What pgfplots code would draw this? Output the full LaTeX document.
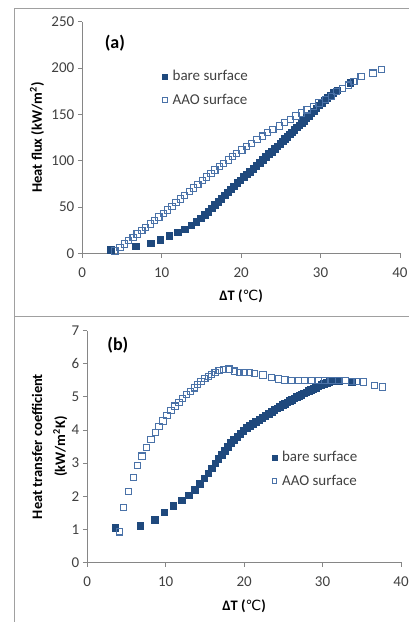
\documentclass[border=0pt]{standalone}
\usepackage{fontspec}
\setmainfont{Carlito}
\newfontfamily\dejavu{DejaVu Sans}
\usepackage{pgfplots}
\pgfplotsset{compat=1.18}

\definecolor{bareblue}{RGB}{31,73,125}
\definecolor{aaoblue}{RGB}{74,114,168}
\definecolor{axgray}{RGB}{134,134,134}
\definecolor{framegray}{RGB}{160,160,160}
\definecolor{txtgray}{RGB}{64,64,64}

\pgfplotsset{
  panel/.style={
    scale only axis,
    axis lines=left,
    axis line style={-, draw=axgray, line width=0.8pt},
    tick align=outside,
    major tick length=4.5pt,
    tick style={axgray, line width=0.8pt},
    xmin=0, xmax=40, xtick={0,10,20,30,40},
    ticklabel style={font=\fontsize{15}{18}\selectfont, text=txtgray},
    xticklabel style={yshift=-6pt},
    /pgf/number format/assume math mode=true,
    label style={font=\bfseries\fontsize{14.5}{23}\selectfont},
    xlabel={ΔT ({\dejavu\mdseries\fontsize{14}{16}\selectfont ℃})},
    legend style={draw=none, fill=none, font=\fontsize{15}{18}\selectfont,
      text=txtgray, row sep=8pt, legend cell align=left,
      /tikz/every odd column/.append style={column sep=3pt}},
    legend image post style={scale=0.75},
    clip=false,
  },
  bare/.style={only marks, mark=square*, mark size=3.3pt,
    mark options={fill=bareblue, draw=bareblue, line width=0.4pt}},
  aao/.style={only marks, mark=square, mark size=3.1pt,
    mark options={draw=aaoblue, line width=1.1pt}},
}

\begin{document}
\begin{tikzpicture}

% panel frames
\draw[framegray, line width=1pt] (409pt,-8pt) -- (14pt,-8pt) -- (14pt,-622pt);
\draw[framegray, line width=1pt] (14pt,-316pt) -- (409pt,-316pt);

% (a) heat flux
\begin{axis}[panel,
  at={(82.3pt,-253.3pt)}, anchor=south west,
  width=317.7pt, height=231.6pt,
  ymin=0, ymax=250, ytick={0,50,...,250},
  ylabel={Heat flux (kW/m\textsuperscript{2})},
  xlabel style={at={(axis description cs:0.5,-0.184)}, anchor=center},
  ylabel style={at={(axis description cs:-0.1426,0.5)}, anchor=center},
  legend style={at={(axis description cs:0.243,0.808)}, anchor=north west},
]
\addplot[bare] table {
x y
3.55 3.7
6.75 7.5
8.6 11.0
9.8 14.8
10.95 18.8
12.0 22.6
12.9 26.2
13.7 30.2
14.35 34.0
14.9 37.8
15.4 41.5
15.85 45.2
16.3 48.7
16.7 52.3
17.1 55.7
17.5 59.2
17.9 62.7
18.3 66.1
18.7 69.4
19.1 72.6
19.5 75.9
19.9 79.0
20.3 82.4
20.7 85.3
21.1 88.4
21.5 91.4
21.9 94.4
22.3 97.5
22.7 100.8
23.1 104.0
23.5 107.2
23.85 109.9
24.2 112.8
24.55 115.6
24.9 118.5
25.2 121.0
25.5 123.4
25.8 125.9
26.1 128.4
26.4 130.9
26.7 133.5
27.0 136.1
27.3 138.4
27.6 141.0
27.9 143.4
28.2 146.1
28.5 148.5
28.8 151.2
29.1 153.6
29.45 156.7
29.8 159.7
30.15 162.5
30.5 165.3
30.85 168.1
31.2 170.7
31.6 173.2
32.1 175.9
33.75 183.9
};
\addlegendentry{bare surface}
\addplot[aao] table {
x y
4.1 2.5
4.75 6.5
5.3 10.0
5.8 13.6
6.4 17.3
6.9 20.8
7.5 24.4
8.0 28.0
8.55 31.6
9.1 35.6
9.65 39.2
10.2 43.2
10.7 46.7
11.3 50.7
11.8 54.6
12.4 58.6
12.9 62.6
13.5 66.5
14.0 70.5
14.55 74.5
15.1 78.4
15.6 82.4
16.2 86.4
16.7 89.9
17.3 93.5
17.8 97.1
18.4 100.7
18.9 104.2
19.45 107.9
20.1 111.5
20.7 115.2
21.3 118.8
22.0 122.5
22.7 126.5
23.3 130.2
24.0 133.8
24.8 137.4
25.5 141.0
26.25 144.6
26.9 148.2
27.6 151.4
28.3 154.8
29.1 158.6
29.8 162.2
30.65 165.9
31.4 169.6
32.0 174.4
32.75 178.0
33.5 181.6
34.2 185.2
35.1 190.6
36.6 194.5
37.7 198.3
};
\addlegendentry{AAO surface}
\node[font=\bfseries\fontsize{18}{20}\selectfont] at (axis cs:4.1,227) {(a)};
\end{axis}

% (b) heat transfer coefficient
\begin{axis}[panel,
  at={(87.3pt,-562.3pt)}, anchor=south west,
  width=313.7pt, height=231.6pt,
  ymin=0, ymax=7, ytick={0,1,...,7},
  ylabel={Heat transfer coefficient\\(kW/m\textsuperscript{2}K)},
  xlabel style={at={(axis description cs:0.5,-0.189)}, anchor=center},
  ylabel style={at={(axis description cs:-0.1205,0.5)}, anchor=center, align=center},
  legend style={at={(axis description cs:0.579,0.497)}, anchor=north west},
]
\addplot[bare] table {
x y
3.55 1.04
6.75 1.11
8.6 1.28
9.8 1.51
10.95 1.72
12.0 1.88
12.9 2.03
13.7 2.20
14.35 2.37
14.9 2.54
15.4 2.69
15.85 2.85
16.3 2.99
16.7 3.13
17.1 3.26
17.5 3.38
17.9 3.50
18.3 3.61
18.7 3.71
19.1 3.80
19.5 3.89
19.9 3.97
20.3 4.06
20.7 4.12
21.1 4.19
21.5 4.25
21.9 4.31
22.3 4.37
22.7 4.44
23.1 4.50
23.5 4.56
23.85 4.61
24.2 4.66
24.55 4.71
24.9 4.76
25.2 4.80
25.5 4.84
25.8 4.88
26.1 4.92
26.4 4.96
26.7 5.00
27.0 5.04
27.3 5.07
27.6 5.11
27.9 5.14
28.2 5.18
28.5 5.21
28.8 5.25
29.1 5.28
29.45 5.32
29.8 5.36
30.15 5.39
30.5 5.42
30.85 5.45
31.2 5.47
31.6 5.48
32.1 5.48
33.75 5.45
};
\addlegendentry{bare surface}
\addplot[aao] table {
x y
4.08 0.92
4.64 1.65
5.27 2.14
5.91 2.56
6.42 2.92
6.97 3.21
7.57 3.47
8.12 3.71
8.67 3.92
9.14 4.10
9.65 4.27
10.16 4.44
10.67 4.58
11.18 4.72
11.69 4.84
12.16 4.96
12.67 5.07
13.14 5.17
13.65 5.27
14.07 5.37
14.5 5.46
15.0 5.55
15.43 5.62
15.86 5.68
16.3 5.74
16.8 5.79
17.4 5.83
18.07 5.84
18.75 5.78
19.4 5.74
20.0 5.73
20.65 5.73
21.3 5.71
22.4 5.66
23.5 5.59
24.35 5.54
25.2 5.51
26.05 5.49
26.9 5.49
27.75 5.49
28.6 5.50
29.45 5.50
30.3 5.50
31.2 5.50
32.0 5.50
32.9 5.50
33.7 5.47
34.3 5.46
35.2 5.45
36.6 5.35
37.6 5.30
};
\addlegendentry{AAO surface}
\node[font=\bfseries\fontsize{18}{20}\selectfont] at (axis cs:3.9,6.56) {(b)};
\end{axis}

\pgfresetboundingbox
\path[use as bounding box] (0pt,0pt) rectangle (409pt,-622pt);
\end{tikzpicture}
\end{document}
